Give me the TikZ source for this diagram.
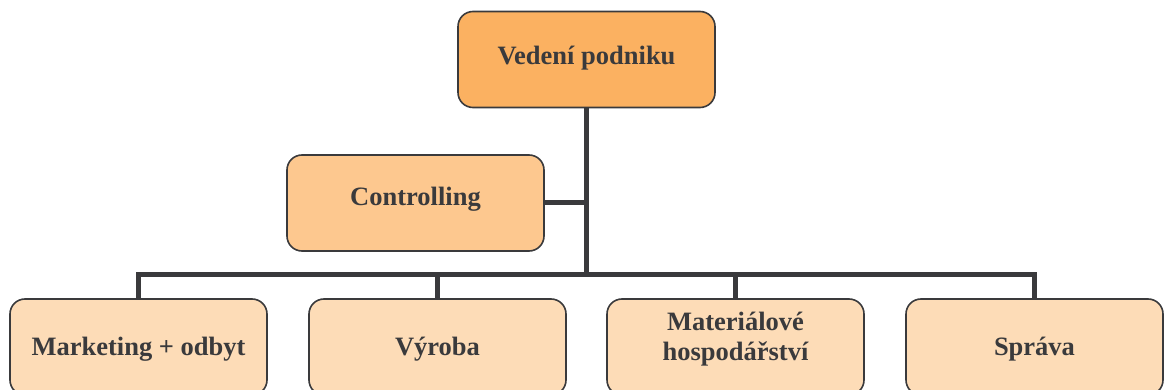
\documentclass[tikz,border=0pt]{standalone}
\usepackage{fontspec}
\setmainfont{Liberation Serif}
\definecolor{topfill}{HTML}{FBB161}
\definecolor{midfill}{HTML}{FDC88F}
\definecolor{lowfill}{HTML}{FDDCB7}
\definecolor{ink}{HTML}{3A3A3C}
\tikzset{
  orgbox/.style={draw=ink, line width=1.6pt, rounded corners=15pt, minimum width=257pt,
    minimum height=96pt, inner sep=0pt},
  lbl/.style={inner sep=0pt, align=center, text=ink,
    font=\fontsize{26.5}{30}\selectfont\bfseries},
  conn/.style={draw=ink, line width=5pt}
}
\begin{document}
\begin{tikzpicture}[x=1pt,y=1pt]
\clip (0,0) rectangle (1168,-390);
\useasboundingbox (0,0) rectangle (1168,-390);
\node[orgbox, fill=topfill] (top) at (586.5,-59.5) {};
\node[orgbox, fill=midfill] (ctrl) at (415.5,-203) {};
\node[orgbox, fill=lowfill] (b1) at (138.5,-347) {};
\node[orgbox, fill=lowfill] (b2) at (437.5,-347) {};
\node[orgbox, fill=lowfill] (b3) at (735.5,-347) {};
\node[orgbox, fill=lowfill] (b4) at (1034.5,-347) {};
\node[lbl] (ttop) at ([yshift=1.5pt]top.center) {Vedení podniku};
\node[lbl] (tctrl) at ([yshift=4pt]ctrl.center) {Controlling};
\node[lbl] (tb1) at ([yshift=-2pt]b1.center) {Marketing + odbyt};
\node[lbl] (tb2) at ([yshift=-2pt]b2.center) {Výroba};
\node[lbl] (tb3) at ([yshift=7.5pt]b3.center) {Materiálové\\hospodářství};
\node[lbl] (tb4) at ([yshift=-2pt]b4.center) {Správa};
\coordinate (junction) at (586.5,-275);
\draw[conn] (top.south) -- (junction);
\draw[conn] (ctrl.east) -- (ctrl.east -| junction);
\draw[conn] (b1.north) -- (b1.north |- junction) -- (b4.north |- junction) -- (b4.north);
\draw[conn] (b2.north) -- (b2.north |- junction);
\draw[conn] (b3.north) -- (b3.north |- junction);
\end{tikzpicture}
\end{document}
